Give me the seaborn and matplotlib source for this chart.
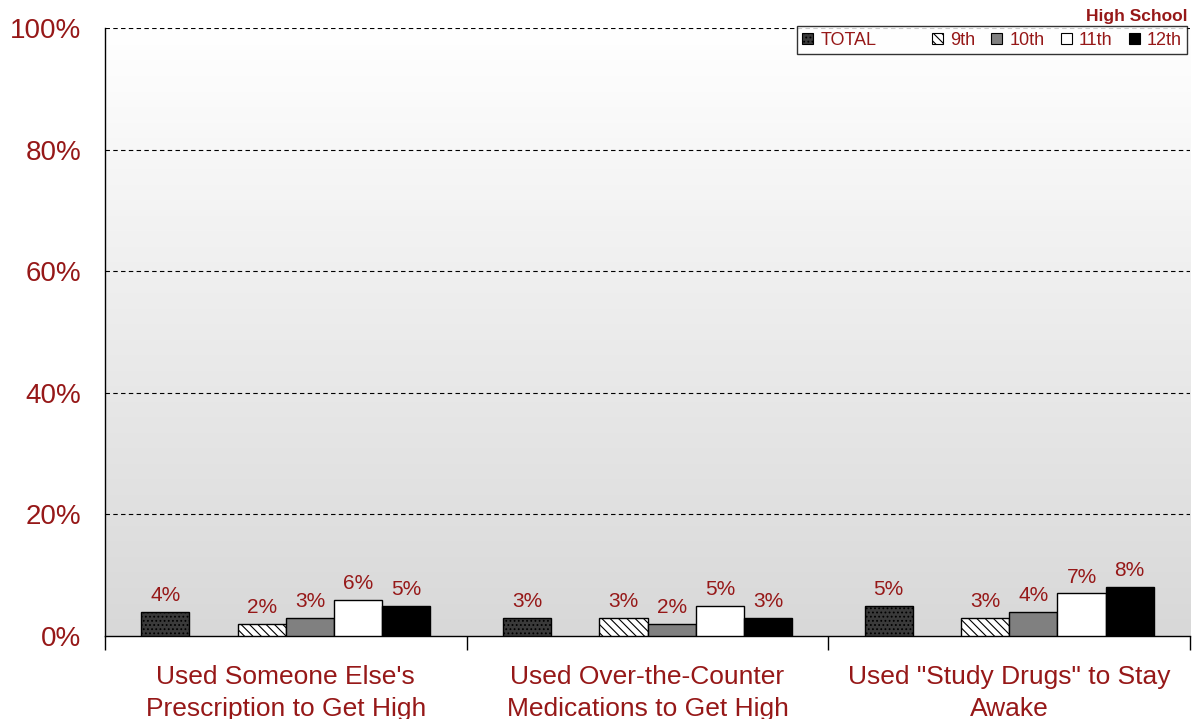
import numpy as np
import pandas as pd
import matplotlib
matplotlib.use("Agg")
import matplotlib.pyplot as plt
from matplotlib.colors import LinearSegmentedColormap
from matplotlib.patches import Patch
import seaborn as sns

categories = ["Used Someone Else's\nPrescription to Get High",
              "Used Over-the-Counter\nMedications to Get High",
              "Used \"Study Drugs\" to Stay\nAwake"]
series = ["TOTAL", "9th", "10th", "11th", "12th"]
total = [4, 3, 5]
g9 = [2, 3, 3]
g10 = [3, 2, 4]
g11 = [6, 5, 7]
g12 = [5, 3, 8]
yticks = [0, 20, 40, 60, 80, 100]

values = {"TOTAL": total, "9th": g9, "10th": g10, "11th": g11, "12th": g12}
rows = []
for s in series:
    for c, v in zip(categories, values[s]):
        rows.append({"cat": c, "grade": s, "val": v})
df = pd.DataFrame(rows)

BLANK = " "
hue_order = ["TOTAL", BLANK, "9th", "10th", "11th", "12th"]
RED = "#961818"
WIDTH = 0.8

sns.set_theme(style="white")
plt.rcParams["font.family"] = ["Liberation Sans", "DejaVu Sans"]
plt.rcParams["hatch.linewidth"] = 0.8

fig = plt.figure(figsize=(11.93, 7.19), dpi=100)
ax = fig.add_axes([0.088, 0.1154, 0.9095, 0.8456])

styles = {
    "TOTAL": dict(facecolor="#3a3a3a", hatch="...."),
    "9th": dict(facecolor="white", hatch="\\\\\\\\"),
    "10th": dict(facecolor="#808080", hatch=None),
    "11th": dict(facecolor="white", hatch=None),
    "12th": dict(facecolor="black", hatch=None),
    BLANK: dict(facecolor="white", hatch=None),
}

sns.barplot(data=df, x="cat", y="val", hue="grade", hue_order=hue_order,
            order=categories, ax=ax, width=WIDTH, legend=False, errorbar=None,
            zorder=3)

nh = len(hue_order)
bw = WIDTH / nh
for b in list(ax.patches):
    if b is None:
        continue
    cx = b.get_x() + b.get_width() / 2
    ci = int(round(cx))
    hi = int(round((cx - ci + WIDTH / 2 - bw / 2) / bw))
    lev = hue_order[hi]
    st = styles[lev]
    b.set_facecolor(st["facecolor"])
    b.set_edgecolor("black")
    b.set_linewidth(1.0)
    if st["hatch"]:
        b.set_hatch(st["hatch"])
    h = b.get_height()
    if np.isfinite(h):
        ax.annotate(f"{h:.0f}%", (cx, h), xytext=(0, 5),
                    textcoords="offset points", ha="center", va="bottom",
                    color=RED, fontsize=15, zorder=4)

# gradient background
cmap = LinearSegmentedColormap.from_list("bg", ["#ffffff", "#d8d8d8"])
ax.imshow(np.linspace(0, 1, 256).reshape(-1, 1), cmap=cmap, aspect="auto",
          extent=[-0.5, 2.5, 0, 100], zorder=0)

ax.set_xlim(-0.5, 2.5)
ax.set_ylim(0, 100)
ax.set_yticks(yticks)
ax.set_yticklabels([f"{t}%" for t in yticks], color=RED, fontsize=20)
ax.tick_params(axis="y", length=0, pad=17)
ax.set_xticks(range(len(categories)))
ax.set_xticklabels(categories, color=RED, fontsize=19, linespacing=1.4)
ax.tick_params(axis="x", which="major", length=0, pad=21)
ax.set_xticks([-0.5, 0.5, 1.5, 2.5], minor=True)
ax.tick_params(axis="x", which="minor", length=10, width=1, color="black",
               direction="out", bottom=True)
ax.set_xlabel("")
ax.set_ylabel("")

for y in yticks[1:]:
    ax.axhline(y, color="black", lw=0.8, ls=(0, (4, 3)), zorder=1)

for side in ["top", "right"]:
    ax.spines[side].set_visible(False)
for side in ["left", "bottom"]:
    ax.spines[side].set_color("black")
    ax.spines[side].set_linewidth(1.0)

# legend
handles = []
labels = []
for lev in hue_order:
    st = styles[lev]
    if lev == BLANK:
        handles.append(Patch(facecolor="none", edgecolor="none"))
    else:
        handles.append(Patch(facecolor=st["facecolor"], edgecolor="black",
                             hatch=st["hatch"], lw=0.8))
    labels.append(lev)
leg = ax.legend(handles, labels, ncol=6, loc="upper right",
                bbox_to_anchor=(0.9975, 1.003), frameon=True, fontsize=13,
                handlelength=0.6, handleheight=0.6, handletextpad=0.4,
                columnspacing=0.9, borderpad=0.3, fancybox=False,
                borderaxespad=0)
leg.get_frame().set_edgecolor("black")
leg.get_frame().set_linewidth(1.0)
leg.get_frame().set_facecolor("white")
leg.set_zorder(5)
for t in leg.get_texts():
    t.set_color(RED)

fig.text(0.995, 0.977, "High School", ha="right", va="center", color=RED,
         fontsize=12.5, fontweight="bold")

fig.savefig("out.png", dpi=100)
